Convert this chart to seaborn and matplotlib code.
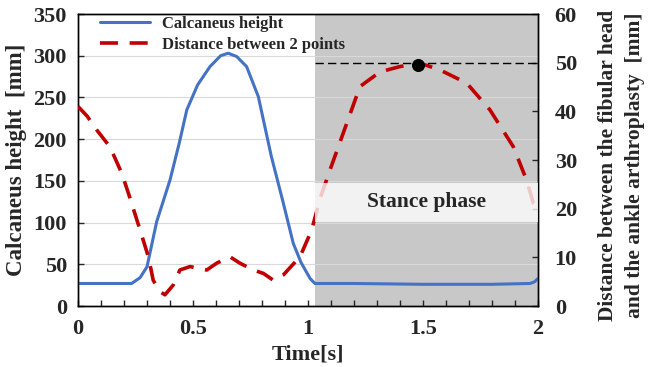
import matplotlib
matplotlib.use("Agg")
import matplotlib.pyplot as plt
import seaborn as sns
import numpy as np
import pandas as pd
from matplotlib.ticker import MultipleLocator

# ---- data ----
calc_time = [0.0, 0.1, 0.2, 0.233, 0.27, 0.30, 0.342, 0.40, 0.44, 0.473, 0.52, 0.574,
             0.62, 0.653, 0.69, 0.733, 0.784, 0.84, 0.893, 0.936, 0.97, 1.009, 1.03,
             1.2, 1.5, 1.8, 1.965, 1.985, 2.0]
calc_height = [27, 27, 27, 27, 34, 47, 101, 151, 195, 235, 265, 287,
               300, 303, 299, 287, 251, 180, 123, 75, 52, 33, 27,
               27, 26, 26, 27, 29, 33]

dist_time = [0.0, 0.04, 0.081, 0.139, 0.19, 0.219, 0.27, 0.306, 0.327, 0.355, 0.378,
             0.414, 0.443, 0.487, 0.56, 0.603, 0.661, 0.704, 0.762, 0.806, 0.849,
             0.893, 0.965, 1.016, 1.052, 1.096, 1.153, 1.226, 1.313, 1.40, 1.487,
             1.574, 1.69, 1.791, 1.893, 1.95, 1.98, 1.995]
dist_value = [41.0, 39.0, 36.2, 32.7, 27.3, 23.2, 15.6, 10.1, 5.3, 3.0, 2.3,
              4.3, 7.4, 8.1, 7.4, 8.8, 10.1, 8.8, 7.4, 6.7, 5.3,
              6.4, 10.1, 15.6, 22.0, 28.0, 35.5, 45.1, 48.1, 49.2, 49.9,
              48.5, 45.8, 40.3, 32.7, 25.9, 21.1, 20.5]

peak_time = [1.48]
peak_value = [49.6]
ref_level = 50.0

stance_start, stance_end = 1.03, 2.0
band_low, band_high = 100.7, 147.5

xticks = [0, 0.5, 1, 1.5, 2]
xtick_labels = ["0", "0.5", "1", "1.5", "2"]
yticks_left = [0, 50, 100, 150, 200, 250, 300, 350]
yticks_right = [0, 10, 20, 30, 40, 50, 60]

calc_df = pd.DataFrame({"t": calc_time, "h": calc_height})
dist_df = pd.DataFrame({"t": dist_time, "d": dist_value})
peak_df = pd.DataFrame({"t": peak_time, "d": peak_value})

sns.set_style("ticks")
plt.rcParams["font.family"] = ["Liberation Serif", "DejaVu Serif"]
plt.rcParams["font.weight"] = "bold"

BLUE = "#4472c4"
RED = "#c00000"
FS = 16

fig = plt.figure(figsize=(6.5, 3.67), dpi=100)
ax = fig.add_axes([78 / 650, 1 - 306 / 367, (538 - 78) / 650, (306 - 14) / 367])
ax2 = ax.twinx()

# background shading
ax.axvspan(stance_start, stance_end, color="#c8c8c8", zorder=0, lw=0)
for yv in [50, 100, 150, 200, 250, 300]:
    ax.axhline(yv, color="#d9d9d9", lw=0.8, zorder=0.5)

sns.lineplot(data=calc_df, x="t", y="h", ax=ax, color=BLUE, lw=2.2,
             label="Calcaneus height", legend=False, zorder=3)
sns.lineplot(data=dist_df, x="t", y="d", ax=ax2, color=RED, lw=2.6,
             label="Distance between 2 points", legend=False, zorder=3)
ax2.lines[0].set_dashes([5, 3.2])
ax2.hlines(ref_level, stance_start, stance_end, colors="black", lw=1.0,
           linestyles=(0, (6, 3)), zorder=4)
sns.scatterplot(data=peak_df, x="t", y="d", ax=ax2, color="black", s=75,
                edgecolor="black", zorder=5, legend=False)

# white band with text (on top of curves)
ax2.fill_between([stance_start, stance_end],
                 [band_low * 60 / 350] * 2, [band_high * 60 / 350] * 2,
                 color="white", alpha=0.78, lw=0, zorder=6)
ax2.text((stance_start + stance_end) / 2, (band_low + band_high) / 2 * 60 / 350,
         "Stance phase", ha="center", va="center", fontsize=15.5,
         fontweight="bold", zorder=7)

ax.set_xlim(0, 2)
ax.set_ylim(0, 350)
ax2.set_ylim(0, 60)
ax.set_xticks(xticks)
ax.set_xticklabels(xtick_labels)
ax.xaxis.set_minor_locator(MultipleLocator(0.1))
ax.set_yticks(yticks_left)
ax2.set_yticks(yticks_right)

ax.tick_params(axis="x", which="both", direction="in", length=4, width=1,
               labelsize=FS, pad=9)
ax.tick_params(axis="y", direction="in", length=4, width=1, labelsize=FS, pad=8)
ax2.tick_params(axis="y", direction="in", length=4, width=1, labelsize=FS, pad=12)
for lab in ax.get_xticklabels() + ax.get_yticklabels() + ax2.get_yticklabels():
    lab.set_fontweight("bold")

ax.set_xlabel("Time[s]", fontsize=FS, fontweight="bold", labelpad=4)
ax.set_ylabel("Calcaneus height  [mm]", fontsize=16.5, fontweight="bold", labelpad=5)
ax2.set_ylabel("Distance between the fibular head\nand the ankle arthroplasty  [mm]",
               fontsize=15.5, fontweight="bold", linespacing=1.45)
ax2.yaxis.set_label_coords(1.13, 0.483)

for a in (ax, ax2):
    for s in a.spines.values():
        s.set_color("black")
        s.set_linewidth(1.0)

h1 = [l for l in ax.lines if l.get_label() == "Calcaneus height"][0]
h2 = ax2.lines[0]
leg = ax2.legend([h1, h2], ["Calcaneus height", "Distance between 2 points"],
                 loc="upper left", bbox_to_anchor=(0.015, 1.045), frameon=False,
                 prop={"size": 12, "weight": "bold"}, handlelength=3.0,
                 labelspacing=0.3, handletextpad=0.7)
leg.set_zorder(10)

fig.savefig("out.png", dpi=100)
